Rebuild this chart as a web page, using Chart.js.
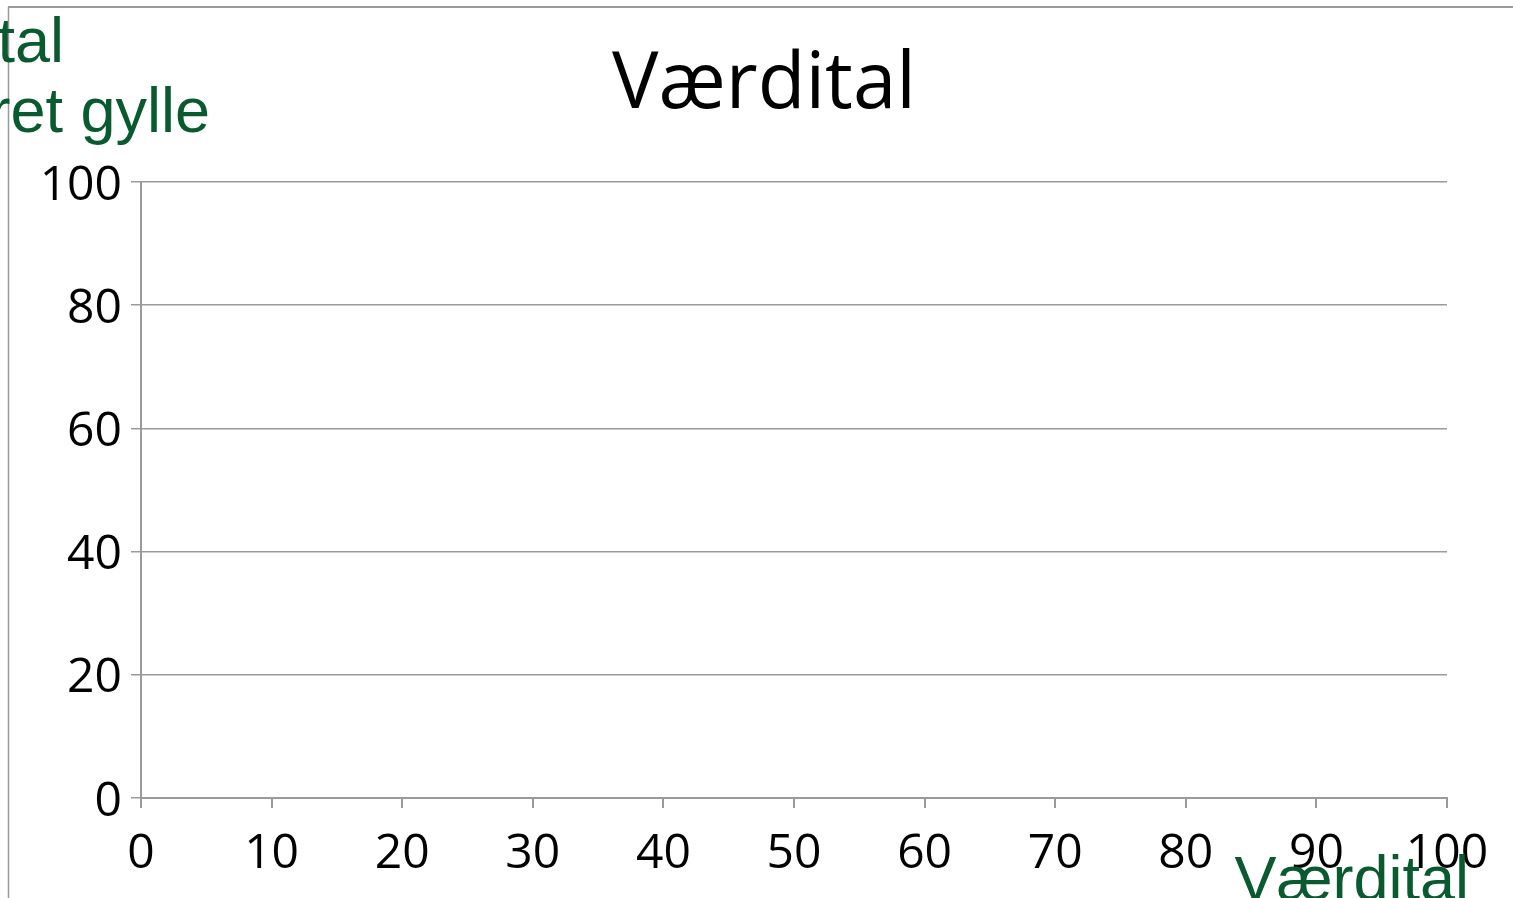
<!DOCTYPE html>
<html>
<head>
<meta charset="utf-8">
<script src="https://cdn.jsdelivr.net/npm/chart.js@4/dist/chart.umd.min.js"></script>
<style>
  body { margin: 0; background: #fff; overflow: hidden; }
  canvas { display: block; }
</style>
</head>
<body>
<canvas id="myChart" width="1513" height="898"></canvas>
<script>
// the chart in the picture holds no points, only empty axes
const xValues = [];
const yValues = [];
const xRange = [0, 100, 10];
const yRange = [0, 100, 20];
const chartTitle = "Værdital";
const yTitleLines = ["tal", "ret gylle"];
const xTitle = "Værdital";

const GREEN = "#0a5a30";
const GRID = "#9a9a9a";

const textPlugin = {
    id: "texts",
    beforeDraw(chart) {
        const ctx = chart.ctx;
        ctx.save();
        ctx.strokeStyle = GRID;
        ctx.lineWidth = 2;
        ctx.beginPath();
        ctx.moveTo(8, 7);
        ctx.lineTo(1513, 7);
        ctx.stroke();
        ctx.lineWidth = 1.5;
        ctx.beginPath();
        ctx.moveTo(8.5, 7);
        ctx.lineTo(8.5, 898);
        ctx.stroke();
        ctx.restore();
    },
    afterDraw(chart) {
        const ctx = chart.ctx;
        ctx.save();
        ctx.textBaseline = "alphabetic";
        ctx.fillStyle = "#000";
        ctx.textAlign = "center";
        ctx.font = '78px "Open Sans"';
        ctx.fillText(chartTitle, 764, 108);

        ctx.fillStyle = GREEN;
        ctx.font = '63px "Liberation Sans", Arial, sans-serif';
        ctx.textAlign = "right";
        ctx.fillText(yTitleLines[0], 64, 62);
        ctx.fillText(yTitleLines[1], 210, 132);
        ctx.fillText(xTitle, 1469, 900);
        ctx.restore();
    }
};

const data = {
    type: "scatter",
    data: {
        datasets: [{
            label: "Værdital",
            data: xValues.map((x, i) => ({ x: x, y: yValues[i] })),
            backgroundColor: GREEN
        }]
    },
    options: {
        responsive: false,
        animation: false,
        layout: { padding: { left: 0, top: 182, right: 66, bottom: 0 } },
        plugins: {
            legend: { display: false },
            tooltip: { enabled: false }
        },
        scales: {
            x: {
                type: "linear",
                min: xRange[0],
                max: xRange[1],
                afterFit: scale => { scale.height = 100; },
                ticks: {
                    stepSize: xRange[2],
                    color: "#000",
                    padding: 18,
                    font: { family: "Open Sans", size: 48 },
                    maxRotation: 0
                },
                grid: { drawOnChartArea: false, drawTicks: true, tickLength: 10, color: GRID, lineWidth: 2 },
                border: { color: GRID, width: 2 }
            },
            y: {
                type: "linear",
                min: yRange[0],
                max: yRange[1],
                afterFit: scale => { scale.width = 141; },
                ticks: {
                    stepSize: yRange[2],
                    color: "#000",
                    padding: 9,
                    labelOffset: 4,
                    font: { family: "Open Sans", size: 48 }
                },
                grid: { drawTicks: true, tickLength: 10, color: GRID, lineWidth: 1.5 },
                border: { color: GRID, width: 2 }
            }
        }
    },
    plugins: [textPlugin]
};

new Chart(document.getElementById("myChart"), data);
</script>
</body>
</html>
